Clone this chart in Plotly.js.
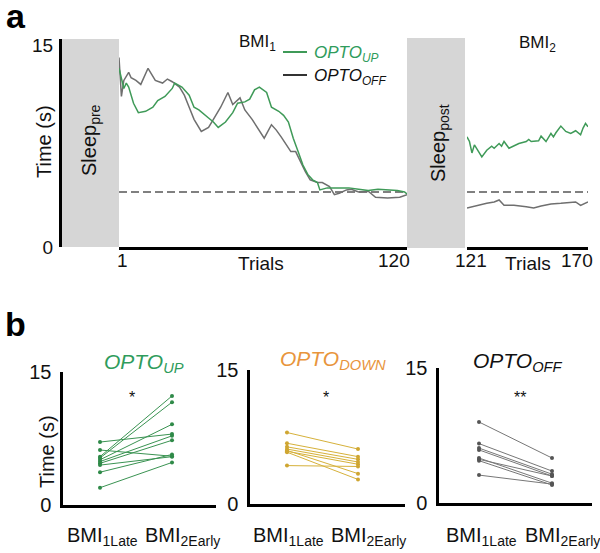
<!DOCTYPE html>
<html><head><meta charset="utf-8">
<script src="https://cdn.plot.ly/plotly-3.0.1.min.js"></script>
<style>html,body{margin:0;padding:0;background:#fff}#chart{width:600px;height:553px}</style>
</head><body><div id="chart"></div>
<script>
// ---------- DATA (panel a) ----------
const upTrials1 = [1,3,4,5,7,9,12,15,17,20,23,24,27,30,32,34,38,40,42,45,48,50,53,55,57,59,62,64,67,69,71,73,75,77,79,81,83,84,87,90,92,96,100,104,108,112,116,119,120];
const upValues1 = [13.3,11.8,12.2,11.9,10.7,10.0,10.1,10.4,10.9,11.2,11.8,12.2,11.9,11.3,10.4,10.2,9.6,9.3,8.9,9.3,10.0,10.7,10.8,11.0,11.7,11.9,11.5,10.4,10.1,9.8,9.3,8.1,7.1,6.1,5.4,5.0,4.8,4.25,4.4,4.4,4.45,4.4,4.3,4.2,4.3,4.25,4.2,4.1,3.95];
const offTrials1 = [1,2,3,5,6,8,10,13,16,19,21,23,26,28,30,32,35,38,40,43,46,48,51,53,56,59,61,64,66,68,70,72,74,76,78,80,83,85,88,90,92,95,97,100,104,107,112,117,120];
const offValues1 = [14.1,11.2,12.4,13.0,12.6,12.4,12.1,13.3,12.4,12.2,12.5,12.3,11.9,11.3,10.4,9.5,8.6,8.9,9.5,10.4,11.5,10.6,11.1,10.2,9.5,8.6,8.1,9.1,8.7,8.2,7.6,7.1,7.1,6.3,5.6,5.0,4.8,4.8,4.5,3.9,4.0,4.25,4.3,4.1,4.15,3.7,3.65,3.7,3.9];
const upTrials2 = [121,122,123,124,126,127,129,131,132,134,135,136,138,140,142,145,146,147,150,151,153,155,156,157,159,161,163,165,167,168,169,170];
const upValues2 = [8.2,7.85,7.0,7.6,7.0,6.7,7.2,7.5,7.35,7.7,7.5,7.85,7.35,7.5,7.7,7.85,8.0,7.85,7.9,8.25,7.85,8.45,8.2,8.5,9.0,8.6,8.45,8.65,8.35,8.85,9.2,8.95];
const offTrials2 = [121,125,129,132,134,136,140,145,148,151,155,159,163,165,167,170];
const offValues2 = [2.9,3.1,3.25,3.35,3.5,3.1,3.1,3.0,2.9,3.05,3.2,3.25,3.3,3.35,3.1,3.35];
const threshold = 4.1;
const bmi1Range = [1,120];
const bmi2Range = [121,170];
const timeTicks = [0,15];
const timeTickText = ['0','15'];

// ---------- DATA (panel b) ----------
const stageLabels = ['BMI<sub>1Late</sub>','BMI<sub>2Early</sub>'];
const upLate    = [7.1,6.2,5.45,5.3,5.1,4.9,4.7,4.5,3.7,1.95];
const upEarly   = [8.0,5.5,12.3,11.6,9.1,7.8,7.3,5.45,5.7,4.8];
const downLate  = [8.0,6.8,6.4,6.15,6.0,5.9,5.8,4.3];
const downEarly = [6.15,5.3,5.0,4.7,3.4,4.45,2.75,4.2];
const offLate   = [9.0,6.6,6.1,5.9,5.0,4.85,4.7,3.1];
const offEarly  = [5.0,3.55,3.2,3.0,2.2,3.0,2.0,2.1];

// ---------- helpers ----------
const W=600,H=553;
const px = v=>v/W, py = v=>1-v/H;
const GREEN='#3f9a58', GRAY='#6f6f6f', GOLD='#d6b13a', ORANGE='#e8953c', LEGGREEN='#2f9c5c';
const FONT='Liberation Sans, Arial, Helvetica, sans-serif';

function pairs(late, early){
  const x=[],y=[];
  for(let i=0;i<late.length;i++){ x.push(0,1,null); y.push(late[i],early[i],null); }
  return {x,y};
}

const traces = [];
traces.push({x:bmi1Range, y:[threshold,threshold], xaxis:'x', yaxis:'y', mode:'lines', line:{color:'#808080', width:2, dash:'8px,4px'}, hoverinfo:'skip'});
traces.push({x:bmi2Range, y:[threshold,threshold], xaxis:'x2', yaxis:'y', mode:'lines', line:{color:'#808080', width:2, dash:'8px,4px'}, hoverinfo:'skip'});
traces.push({x:offTrials1, y:offValues1, xaxis:'x', yaxis:'y', mode:'lines', line:{color:GRAY, width:1.5}, name:'OPTO OFF'});
traces.push({x:upTrials1, y:upValues1, xaxis:'x', yaxis:'y', mode:'lines', line:{color:GREEN, width:1.5}, name:'OPTO UP'});
traces.push({x:offTrials2, y:offValues2, xaxis:'x2', yaxis:'y', mode:'lines', line:{color:GRAY, width:1.5}, name:'OPTO OFF'});
traces.push({x:upTrials2, y:upValues2, xaxis:'x2', yaxis:'y', mode:'lines', line:{color:GREEN, width:1.5}, name:'OPTO UP'});

const pUp=pairs(upLate,upEarly), pDown=pairs(downLate,downEarly), pOff=pairs(offLate,offEarly);
traces.push({x:pUp.x, y:pUp.y, xaxis:'x3', yaxis:'y3', mode:'lines+markers', line:{color:'#3a9352', width:1}, marker:{color:'#2f8a48', size:4}});
traces.push({x:pDown.x, y:pDown.y, xaxis:'x4', yaxis:'y4', mode:'lines+markers', line:{color:GOLD, width:1}, marker:{color:'#cfa632', size:4}});
traces.push({x:pOff.x, y:pOff.y, xaxis:'x5', yaxis:'y5', mode:'lines+markers', line:{color:'#777', width:1}, marker:{color:'#555', size:4}});

const baseAxis = {showline:true, linecolor:'#000', linewidth:2.6, showgrid:false, zeroline:false, fixedrange:true};
const catTickVals = [0,1];
const catAxis = {tickvals:catTickVals, showticklabels:false, ticks:''};
const timeAxis = {tickvals:timeTicks, ticktext:timeTickText, ticks:'outside', ticklen:5, tickcolor:'rgba(0,0,0,0)', tickfont:{size:20}};

// tick labels for the trial axes, placed through the axes' own scales
const trialTickAnn = [
  {xref:'x',  v:bmi1Range[0], shift:3},
  {xref:'x',  v:bmi1Range[1], shift:-13},
  {xref:'x2', v:bmi2Range[0], shift:4},
  {xref:'x2', v:bmi2Range[1], shift:-11}
].map(t=>({text:String(t.v), xref:t.xref, yref:'paper', x:t.v, y:py(260), xshift:t.shift, xanchor:'center', yanchor:'middle', showarrow:false, font:{size:19}}));

// category labels for panel b, placed through each subplot's x scale
const catShift = [2, 10];
const catTickAnn = [];
['x3','x4','x5'].forEach(ax=>{
  catTickVals.forEach((v,i)=>{
    catTickAnn.push({text:stageLabels[i], xref:ax, yref:'paper', x:v, y:py(536), xshift:catShift[i], xanchor:'center', yanchor:'middle', showarrow:false, font:{size:20}});
  });
});

function ann(text, x, y, opts){
  return Object.assign({text, xref:'paper', yref:'paper', x:px(x), y:py(y), xanchor:'center', yanchor:'middle', showarrow:false}, opts||{});
}

const layout = {
  width:W, height:H, margin:{l:0,r:0,t:0,b:0}, showlegend:false,
  paper_bgcolor:'#fff', plot_bgcolor:'rgba(0,0,0,0)',
  font:{family:FONT, color:'#111'},
  xaxis: Object.assign({}, baseAxis, {domain:[px(119),px(407)], range:bmi1Range, anchor:'y', tickvals:bmi1Range, showticklabels:false, ticks:''}),
  xaxis2: Object.assign({}, baseAxis, {domain:[px(467),px(588)], range:bmi2Range, anchor:'y', tickvals:bmi2Range, showticklabels:false, ticks:''}),
  yaxis: Object.assign({}, baseAxis, {domain:[py(247),py(39)], range:[0,15.48], anchor:'free', position:px(60), tickvals:timeTicks, ticktext:timeTickText, ticks:'outside', ticklen:2, tickcolor:'rgba(0,0,0,0)', tickfont:{size:19}}),
  xaxis3: Object.assign({}, baseAxis, catAxis, {domain:[px(63),px(216)], range:[-0.514,1.611], anchor:'y3'}),
  yaxis3: Object.assign({}, baseAxis, timeAxis, {domain:[py(505),py(372)], range:[0,15], anchor:'x3'}),
  xaxis4: Object.assign({}, baseAxis, catAxis, {domain:[px(250),px(405)], range:[-0.521,1.662], anchor:'y4'}),
  yaxis4: Object.assign({}, baseAxis, timeAxis, {domain:[py(504),py(370)], range:[0,15], anchor:'x4'}),
  xaxis5: Object.assign({}, baseAxis, catAxis, {domain:[px(439),px(592)], range:[-0.548,1.548], anchor:'y5'}),
  yaxis5: Object.assign({}, baseAxis, timeAxis, {domain:[py(503),py(368)], range:[0,15], anchor:'x5'}),
  shapes:[
    {type:'rect', xref:'paper', yref:'paper', x0:px(62), x1:px(119), y0:py(247), y1:py(39), fillcolor:'#d6d6d6', line:{width:0}, layer:'below'},
    {type:'rect', xref:'paper', yref:'paper', x0:px(407), x1:px(465), y0:py(248), y1:py(38), fillcolor:'#d6d6d6', line:{width:0}, layer:'below'},
    {type:'line', xref:'paper', yref:'paper', x0:px(283), x1:px(307), y0:py(52), y1:py(52), line:{color:GREEN, width:2}},
    {type:'line', xref:'paper', yref:'paper', x0:px(283), x1:px(307), y0:py(75), y1:py(75), line:{color:'#333', width:2}}
  ],
  annotations:[
    ann('<b>a</b>', 4, 16, {xanchor:'left', font:{size:34, color:'#000'}}),
    ann('<b>b</b>', 3, 324, {xanchor:'left', font:{size:34, color:'#000'}}),
    ann('Time (s)', 44, 142, {textangle:-90, font:{size:20}}),
    ann('Sleep<sub>pre</sub>', 90, 140, {textangle:-90, font:{size:20}}),
    ann('Sleep<sub>post</sub>', 440, 143, {textangle:-90, font:{size:20}}),
    ann('BMI<sub>1</sub>', 257, 43, {font:{size:17}}),
    ann('BMI<sub>2</sub>', 537, 44, {font:{size:17}}),
    ann('<i>OPTO<sub>UP</sub></i>', 312, 54, {xanchor:'left', font:{size:17, color:LEGGREEN}}),
    ann('<i>OPTO<sub>OFF</sub></i>', 312, 77, {xanchor:'left', font:{size:17, color:'#111'}}),
    ann('Trials', 261, 263, {font:{size:19}}),
    ann('Trials', 528, 263, {font:{size:19}}),
    ann('Time (s)', 47, 452, {textangle:-90, font:{size:20}}),
    ann('<i>OPTO<sub>UP</sub></i>', 144, 363, {font:{size:21, color:'#2f9c5c'}}),
    ann('<i>OPTO<sub>DOWN</sub></i>', 333, 360, {font:{size:21, color:ORANGE}}),
    ann('<i>OPTO<sub>OFF</sub></i>', 518, 362, {font:{size:21, color:'#111'}}),
    ann('*', 132, 397, {font:{size:16}}),
    ann('*', 326, 397, {font:{size:16}}),
    ann('**', 520, 397, {font:{size:16}})
  ].concat(trialTickAnn, catTickAnn)
};

Plotly.newPlot('chart', traces, layout, {staticPlot:true, displayModeBar:false});
</script></body></html>
